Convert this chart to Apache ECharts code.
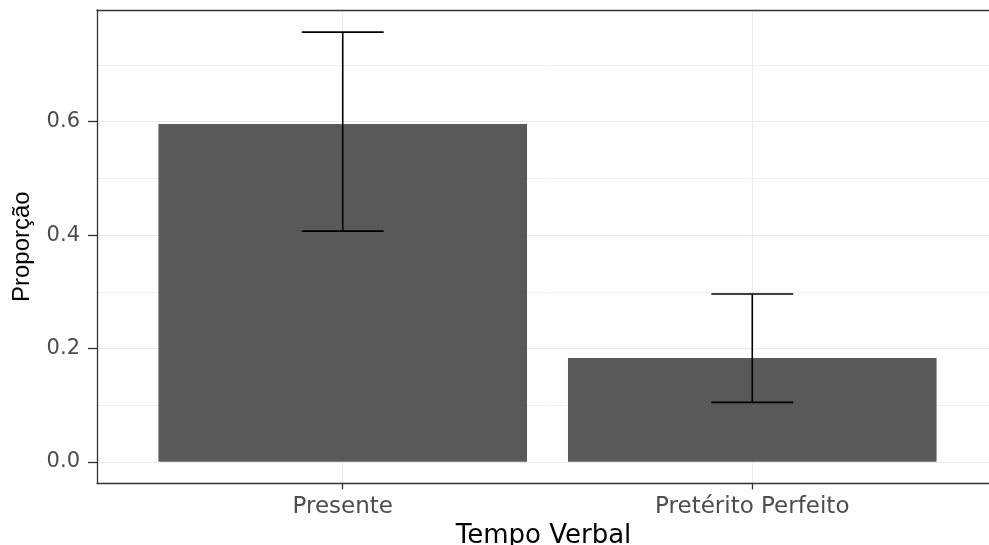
<!DOCTYPE html>
<html>
<head>
<meta charset="utf-8">
<script src="https://cdn.jsdelivr.net/npm/echarts@6/dist/echarts.min.js"></script>
<style>
  html, body { margin: 0; padding: 0; background: #ffffff; overflow: hidden; }
  #chart { width: 998px; height: 545px; }
</style>
</head>
<body>
<div id="chart"></div>
<script>
// ---- data ----
var categories = ['Presente', 'Pretérito Perfeito'];
var proportion = [0.596, 0.183];
var ciLower = [0.407, 0.105];
var ciUpper = [0.758, 0.296];
var yTicks = [0.0, 0.2, 0.4, 0.6];
var xTitle = 'Tempo Verbal';
var yTitle = 'Proporção';

// category positions on a continuous axis (1, 2, ...)
var catPos = categories.map(function (c, i) { return i + 1; });
var barData = catPos.map(function (x, i) { return [x, proportion[i]]; });
var errData = catPos.map(function (x, i) { return [x, ciLower[i], ciUpper[i]]; });

var chart = echarts.init(document.getElementById('chart'), null, { renderer: 'canvas' });

function isTick(v, list) {
  for (var i = 0; i < list.length; i++) if (Math.abs(v - list[i]) < 1e-6) return true;
  return false;
}

function borderLine() {
  return { show: true, onZero: false, lineStyle: { color: '#333333', width: 1.3 } };
}

var option = {
  animation: false,
  backgroundColor: '#ffffff',
  grid: {
    left: 97, right: 0, top: 10, bottom: 61.6,
    show: false,
    containLabel: false,
    outerBoundsMode: 'none'
  },
  xAxis: [{
    type: 'value',
    position: 'bottom',
    min: 0.4, max: 2.6,
    splitNumber: 2,
    name: xTitle,
    nameLocation: 'middle',
    nameGap: 33,
    nameTextStyle: { fontFamily: 'DejaVu Sans', fontSize: 26, color: '#000000', padding: [0, 0, 0, -8] },
    axisLine: borderLine(),
    axisTick: { show: true, length: 6, lineStyle: { color: '#333333', width: 1.3 }, customValues: catPos },
    axisLabel: {
      customValues: catPos,
      margin: 12,
      fontFamily: 'DejaVu Sans', fontSize: 23, color: '#4D4D4D',
      formatter: function (v) {
        var i = catPos.indexOf(Math.round(v));
        return (Math.abs(v - Math.round(v)) < 1e-6 && i >= 0) ? categories[i] : '';
      }
    },
    splitLine: { show: true, lineStyle: { color: '#EBEBEB', width: 1.2 } },
    minorSplitLine: { show: false }
  }, {
    type: 'value',
    position: 'top',
    min: 0.4, max: 2.6,
    axisLine: borderLine(),
    axisTick: { show: false },
    axisLabel: { show: false },
    splitLine: { show: false }
  }],
  yAxis: {
    type: 'value',
    min: -0.038, max: 0.797,
    name: yTitle,
    nameLocation: 'middle',
    nameGap: 63,
    nameRotate: 90,
    nameTextStyle: { fontFamily: 'Liberation Sans', fontSize: 24, color: '#000000' },
    axisLine: borderLine(),
    axisTick: { show: true, length: 9, lineStyle: { color: '#333333', width: 1.3 }, customValues: yTicks },
    axisLabel: {
      customValues: yTicks,
      margin: 17,
      fontFamily: 'DejaVu Sans', fontSize: 21, color: '#4D4D4D',
      formatter: function (v) { return isTick(v, yTicks) ? v.toFixed(1) : ''; }
    },
    splitLine: { show: true, lineStyle: { color: '#EBEBEB', width: 1.2 } },
    minorTick: { show: false, splitNumber: 2 },
    minorSplitLine: { show: true, lineStyle: { color: '#F0F0F0', width: 1 } }
  },
  series: [
    {
      type: 'bar',
      xAxisIndex: 0,
      data: barData,
      barWidth: '90%',
      itemStyle: { color: '#595959' },
      z: 2
    },
    {
      type: 'custom',
      xAxisIndex: 0,
      data: errData,
      encode: { x: 0, y: [1, 2] },
      z: 3,
      renderItem: function (params, api) {
        var x = api.value(0);
        var lo = api.coord([x, api.value(1)]);
        var hi = api.coord([x, api.value(2)]);
        var half = api.size([0.2, 0])[0] / 2;
        var style = { stroke: '#000000', lineWidth: 1.6, fill: null };
        return {
          type: 'group',
          children: [
            { type: 'line', shape: { x1: lo[0], y1: lo[1], x2: hi[0], y2: hi[1] }, style: style },
            { type: 'line', shape: { x1: hi[0] - half, y1: hi[1], x2: hi[0] + half, y2: hi[1] }, style: style },
            { type: 'line', shape: { x1: lo[0] - half, y1: lo[1], x2: lo[0] + half, y2: lo[1] }, style: style }
          ]
        };
      }
    }
  ]
};
chart.setOption(option);
</script>
</body>
</html>
